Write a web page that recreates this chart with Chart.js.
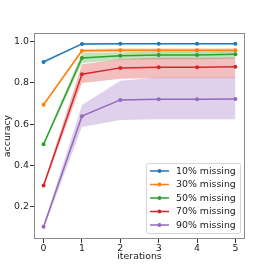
<!DOCTYPE html>
<html>
<head>
<meta charset="utf-8">
<script src="https://cdn.jsdelivr.net/npm/chart.js@4"></script>
<style>
  html, body { margin: 0; padding: 0; background: #fff; }
  #wrap { width: 273px; height: 273px; }
</style>
</head>
<body>
<div id="wrap"><canvas id="myChart" width="273" height="273"></canvas></div>
<script>
// data
const iterations = [0, 1, 2, 3, 4, 5];
const seriesNames = ['10% missing', '30% missing', '50% missing', '70% missing', '90% missing'];
const seriesColors = ['31,119,180', '255,127,14', '44,160,44', '214,39,40', '148,103,189'];
const yTicks = [0.2, 0.4, 0.6, 0.8, 1.0];

const mean10 = [0.902, 0.989, 0.990, 0.990, 0.990, 0.990];
const high10 = [0.909, 0.992, 0.993, 0.993, 0.993, 0.993];
const low10  = [0.895, 0.986, 0.987, 0.987, 0.987, 0.987];

const mean30 = [0.695, 0.956, 0.958, 0.958, 0.958, 0.958];
const high30 = [0.704, 0.965, 0.968, 0.968, 0.968, 0.968];
const low30  = [0.686, 0.947, 0.948, 0.948, 0.948, 0.948];

const mean50 = [0.503, 0.921, 0.932, 0.936, 0.936, 0.939];
const high50 = [0.510, 0.945, 0.948, 0.952, 0.952, 0.954];
const low50  = [0.496, 0.897, 0.913, 0.915, 0.915, 0.917];

const mean70 = [0.303, 0.842, 0.873, 0.876, 0.876, 0.879];
const high70 = [0.313, 0.890, 0.916, 0.922, 0.922, 0.923];
const low70  = [0.293, 0.800, 0.820, 0.823, 0.823, 0.823];

const mean90 = [0.103, 0.639, 0.718, 0.721, 0.721, 0.722];
const high90 = [0.113, 0.693, 0.811, 0.826, 0.826, 0.826];
const low90  = [0.093, 0.587, 0.621, 0.624, 0.624, 0.624];

const means = [mean10, mean30, mean50, mean70, mean90];
const highs = [high10, high30, high50, high70, high90];
const lows = [low10, low30, low50, low70, low90];

const FONT = 'DejaVu Sans';
const FS = 9.4;

function pts(arr) {
  return arr.map((v, i) => ({ x: iterations[i], y: v }));
}

let datasets = [];
seriesNames.forEach(function (name, i) {
  const c = seriesColors[i];
  const ord = (5 - i) * 3;
  datasets.push({
    label: name + ' hi', data: pts(highs[i]), fill: '+1',
    backgroundColor: 'rgba(' + c + ',0.3)', borderWidth: 0, pointRadius: 0, order: ord + 2
  });
  datasets.push({
    label: name + ' lo', data: pts(lows[i]), fill: false,
    borderWidth: 0, pointRadius: 0, order: ord + 1
  });
  datasets.push({
    label: name, data: pts(means[i]), fill: false,
    borderColor: 'rgb(' + c + ')', backgroundColor: 'rgb(' + c + ')',
    borderWidth: 1.5, pointRadius: 2, pointBorderWidth: 0, order: ord
  });
});

// box round the plot + legend inside it
const framePlugin = {
  id: 'frame',
  afterDatasetsDraw(chart) {
    const a = chart.chartArea, ctx = chart.ctx;
    ctx.save();
    ctx.strokeStyle = '#8a8a8a';
    ctx.lineWidth = 1;
    ctx.strokeRect(a.left + 0.5, a.top + 0.5, a.right - a.left - 1, a.bottom - a.top - 1);
    ctx.restore();
  },
  afterDraw(chart) {
    const ctx = chart.ctx;
    const bx = 146, by = 163, bw = 94, bh = 70;
    ctx.save();
    ctx.beginPath();
    ctx.roundRect(bx + 0.5, by + 0.5, bw, bh, 2);
    ctx.fillStyle = 'rgba(255,255,255,0.8)';
    ctx.fill();
    ctx.strokeStyle = '#d6d6d6';
    ctx.lineWidth = 1;
    ctx.stroke();
    ctx.font = FS + 'px "' + FONT + '"';
    ctx.textBaseline = 'middle';
    seriesNames.forEach(function (name, i) {
      const y = 171 + i * 13.5;
      ctx.strokeStyle = 'rgb(' + seriesColors[i] + ')';
      ctx.lineWidth = 1.5;
      ctx.beginPath();
      ctx.moveTo(150, y);
      ctx.lineTo(169, y);
      ctx.stroke();
      ctx.fillStyle = 'rgb(' + seriesColors[i] + ')';
      ctx.beginPath();
      ctx.arc(159.5, y, 2, 0, Math.PI * 2);
      ctx.fill();
      ctx.fillStyle = '#222';
      ctx.fillText(name, 176, y + 0.5);
    });
    ctx.restore();
  }
};

const ctx = document.getElementById('myChart');

new Chart(ctx, {
  type: 'line',
  data: { datasets: datasets },
  options: {
    responsive: false,
    animation: false,
    layout: { padding: { left: 0, top: 33, right: 28, bottom: 0 } },
    plugins: {
      legend: { display: false },
      tooltip: { enabled: false },
      filler: { propagate: false }
    },
    scales: {
      x: {
        type: 'linear',
        min: -0.25,
        max: 5.25,
        afterBuildTicks: function (scale) {
          scale.ticks = iterations.map(v => ({ value: v }));
        },
        afterFit: function (scale) { scale.height = 34; },
        grid: { drawOnChartArea: false, drawTicks: true, tickLength: 4, tickColor: '#333' },
        border: { display: false },
        ticks: { color: '#222', padding: 0, font: { family: FONT, size: FS, lineHeight: 1.2 }, maxRotation: 0 },
        title: {
          display: true, text: 'iterations', color: '#222',
          font: { family: FONT, size: FS, lineHeight: 1.2 },
          padding: { top: 0, bottom: 10.7 }
        }
      },
      y: {
        type: 'linear',
        min: 0.044,
        max: 1.042,
        afterBuildTicks: function (scale) {
          scale.ticks = yTicks.map(v => ({ value: v }));
        },
        afterFit: function (scale) { scale.width = 34; },
        grid: { drawOnChartArea: false, drawTicks: true, tickLength: 4, tickColor: '#333' },
        border: { display: false },
        ticks: {
          color: '#222', padding: 1, font: { family: FONT, size: FS, lineHeight: 1.2 },
          callback: v => v.toFixed(1)
        },
        title: {
          display: true, text: 'accuracy', color: '#222',
          font: { family: FONT, size: FS, lineHeight: 1.2 },
          padding: { top: 2.4, bottom: 0 }
        }
      }
    }
  },
  plugins: [framePlugin]
});
</script>
</body>
</html>
